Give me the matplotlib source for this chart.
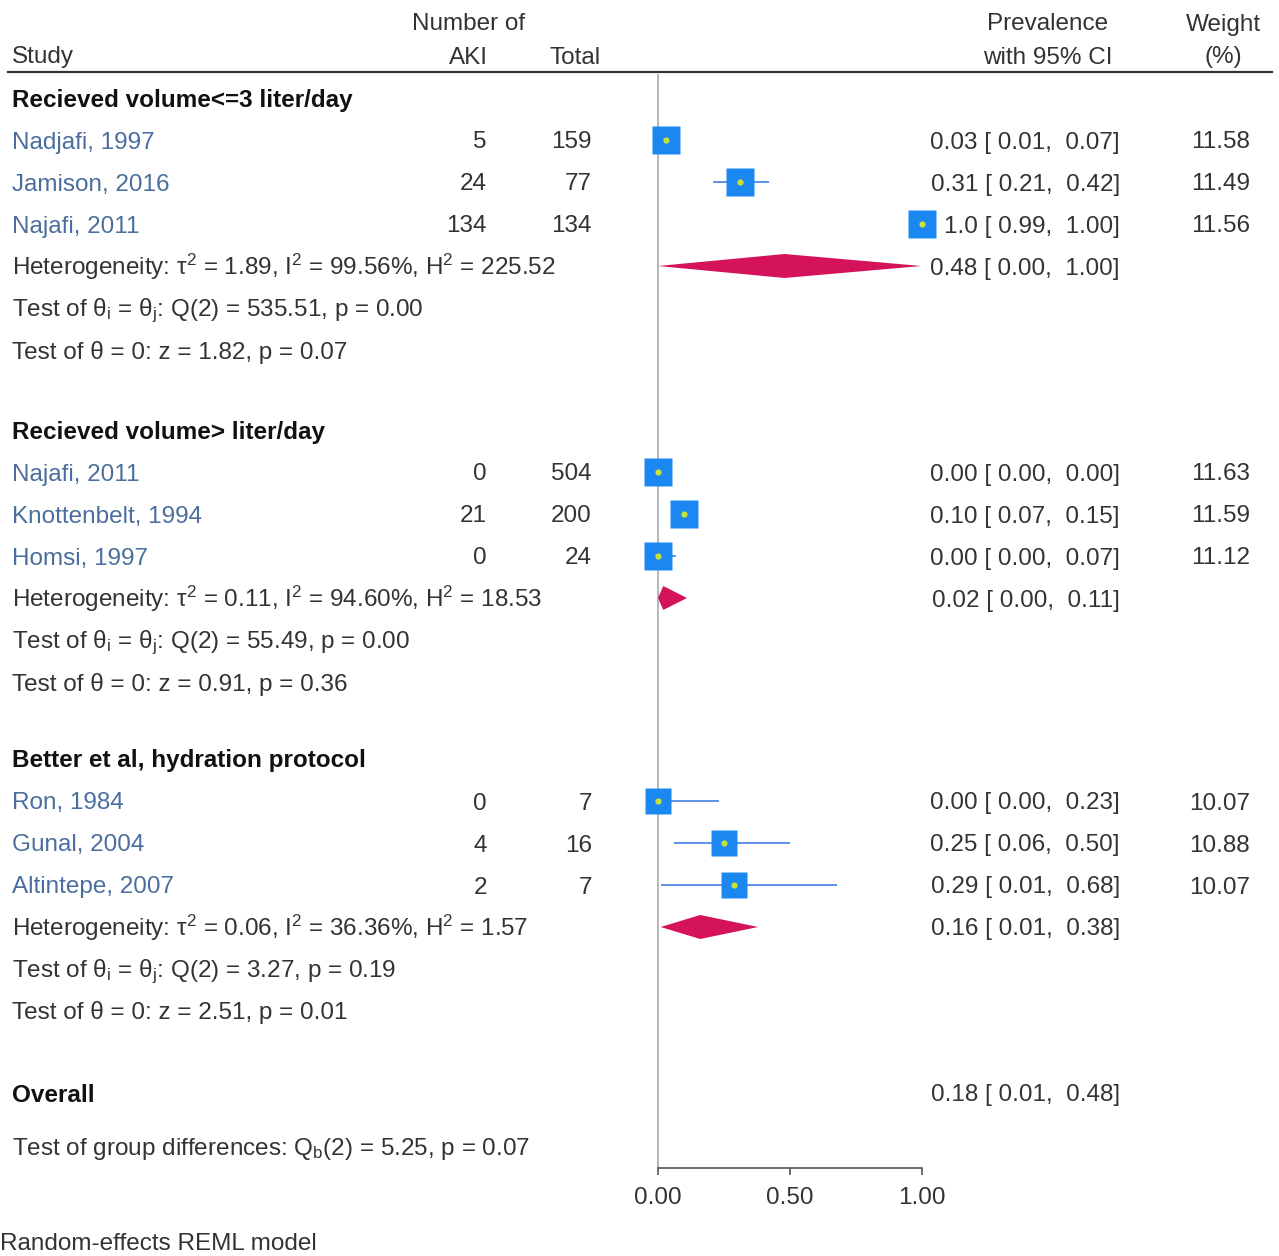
import matplotlib
matplotlib.use("Agg")
import matplotlib.pyplot as plt
from matplotlib.transforms import blended_transform_factory

plt.rcParams["font.family"] = ["Liberation Sans", "DejaVu Sans"]
plt.rcParams["mathtext.fontset"] = "custom"
plt.rcParams["mathtext.rm"] = "Liberation Sans"
plt.rcParams["mathtext.it"] = "Liberation Sans:italic"
plt.rcParams["mathtext.bf"] = "Liberation Sans:bold"

# --- data -------------------------------------------------------------
group_names = [
    "Recieved volume<=3 liter/day",
    "Recieved volume> liter/day",
    "Better et al, hydration protocol",
]
study_names = [
    ["Nadjafi, 1997", "Jamison, 2016", "Najafi, 2011"],
    ["Najafi, 2011", "Knottenbelt, 1994", "Homsi, 1997"],
    ["Ron, 1984", "Gunal, 2004", "Altintepe, 2007"],
]
n_aki = [[5, 24, 134], [0, 21, 0], [0, 4, 2]]
n_total = [[159, 77, 134], [504, 200, 24], [7, 16, 7]]
prev_est = [[0.03, 0.31, 1.00], [0.00, 0.10, 0.00], [0.00, 0.25, 0.29]]
prev_lo = [[0.01, 0.21, 0.99], [0.00, 0.07, 0.00], [0.00, 0.06, 0.01]]
prev_hi = [[0.07, 0.42, 1.00], [0.00, 0.15, 0.07], [0.23, 0.50, 0.68]]
weights = [[11.58, 11.49, 11.56], [11.63, 11.59, 11.12], [10.07, 10.88, 10.07]]

group_est = [0.48, 0.02, 0.16]
group_lo = [0.00, 0.00, 0.01]
group_hi = [1.00, 0.11, 0.38]
tau2 = [1.89, 0.11, 0.06]
i2 = [99.56, 94.60, 36.36]
h2 = [225.52, 18.53, 1.57]
q_het = [535.51, 55.49, 3.27]
p_het = [0.00, 0.00, 0.19]
z_val = [1.82, 0.91, 2.51]
p_z = [0.07, 0.36, 0.01]

overall_est, overall_lo, overall_hi = 0.18, 0.01, 0.48
qb, p_qb = 5.25, 0.07

x_ticks = [0.0, 0.5, 1.0]

# --- layout (pixels) --------------------------------------------------
W, H = 1279, 1256
X0, X1 = 658, 921.5
Y_TOP, Y_AXIS = 75, 1168
ROW = 42
group_tops = [98, 430, 759]
Y_OVERALL, Y_QB, Y_NOTE = 1093, 1147, 1242
FS = 17.5
CAP = 17
TXT = "#333333"
NAME = "#4a6e9e"
SQ = "#1b88f2"
DOT = "#c8e03a"
CI_COL = "#3f80e4"
DIA = "#d4135a"


def fmt_ci(e, lo, hi):
    e_txt = "1.0" if round(e, 2) >= 1 else f"{e:.2f}"
    return f"{e_txt} [ {lo:.2f},  {hi:.2f}]"


def main():
    fig = plt.figure(figsize=(W / 100, H / 100), dpi=100)
    ax = fig.add_axes([X0 / W, (H - Y_AXIS) / H, (X1 - X0) / W, (Y_AXIS - Y_TOP) / H])
    ax.set_xlim(0, 1)
    ax.set_ylim(Y_AXIS, Y_TOP)
    ax.patch.set_visible(False)
    for s in ["top", "right"]:
        ax.spines[s].set_visible(False)
    ax.spines["left"].set_color("#aaaaaa")
    ax.spines["left"].set_linewidth(1.2)
    ax.spines["bottom"].set_color("#555555")
    ax.spines["bottom"].set_linewidth(1.2)
    ax.set_yticks([])
    ax.set_xticks(x_ticks)
    ax.set_xticklabels([f"{t:.2f}" for t in x_ticks])
    ax.tick_params(axis="x", length=5, width=1.2, color="#555555",
                   labelsize=FS, labelcolor=TXT, pad=9)

    trans = blended_transform_factory(fig.transFigure, ax.transData)

    def put(x_px, y, s, ha="left", **kw):
        kw.setdefault("color", TXT)
        ax.text(x_px / W, y + CAP / 2, s, transform=trans, ha=ha,
                va="baseline", fontsize=FS, **kw)

    # header
    put(12, 55, "Study")
    put(469, 22, "Number of", ha="center")
    put(488, 55, "AKI", ha="right")
    put(601, 55, "Total", ha="right")
    put(1048, 22, "Prevalence", ha="center")
    put(1048, 55, "with 95% CI", ha="center")
    put(1223, 22, "Weight", ha="center")
    put(1223, 55, "(%)", ha="center")
    ax.plot([8 / W, 1272 / W], [72, 72], transform=trans, color="#333333",
            lw=1.6, clip_on=False)

    for g, top in enumerate(group_tops):
        put(12, top, group_names[g], fontweight="bold", color="#111111")
        for k in range(3):
            y = top + ROW * (k + 1)
            put(12, y, study_names[g][k], color=NAME)
            put(487, y, str(n_aki[g][k]), ha="right")
            put(592, y, str(n_total[g][k]), ha="right")
            put(1120, y, fmt_ci(prev_est[g][k], prev_lo[g][k], prev_hi[g][k]), ha="right")
            put(1250, y, f"{weights[g][k]:.2f}", ha="right")

            ax.hlines(y, prev_lo[g][k], prev_hi[g][k], color=CI_COL, lw=1.2,
                      clip_on=False, zorder=2)
            ms = 20 * (weights[g][k] / 11.63) ** 0.5
            ax.plot(prev_est[g][k], y, marker="s", ms=ms, color=SQ, mec="none",
                    clip_on=False, zorder=3)
            ax.plot(prev_est[g][k], y, marker="o", ms=4.5, color=DOT, mec="none",
                    clip_on=False, zorder=4)

        y = top + ROW * 4
        put(12, y, "Heterogeneity: τ$^\\mathregular{2}$ = %.2f, I$^\\mathregular{2}$ = %.2f%%, "
                   "H$^\\mathregular{2}$ = %.2f" % (tau2[g], i2[g], h2[g]))
        put(1120, y, fmt_ci(group_est[g], group_lo[g], group_hi[g]), ha="right")
        ax.fill([group_lo[g], group_est[g], group_hi[g], group_est[g]],
                [y, y - 12, y, y + 12], color=DIA, lw=0, clip_on=False, zorder=3)

        put(12, top + ROW * 5, "Test of θ$_\\mathregular{i}$ = θ$_\\mathregular{j}$: "
                               "Q(2) = %.2f, p = %.2f" % (q_het[g], p_het[g]))
        put(12, top + ROW * 6, "Test of θ = 0: z = %.2f, p = %.2f" % (z_val[g], p_z[g]))

    put(12, Y_OVERALL, "Overall", fontweight="bold", color="#111111")
    put(1120, Y_OVERALL, fmt_ci(overall_est, overall_lo, overall_hi), ha="right")
    put(12, Y_QB, "Test of group differences: Q$_\\mathregular{b}$(2) = %.2f, p = %.2f" % (qb, p_qb))
    put(0, Y_NOTE, "Random-effects REML model")

    fig.savefig("out.png", dpi=100, facecolor="white")


if __name__ == "__main__":
    main()
